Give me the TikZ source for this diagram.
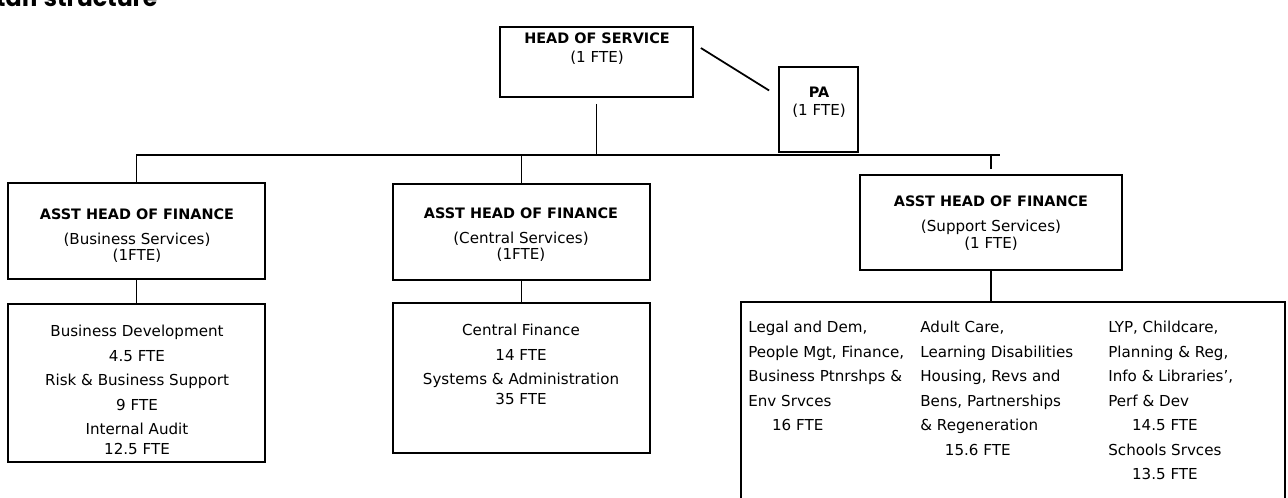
\documentclass[tikz,border=0pt]{standalone}
\usepackage{fontspec}
\setmainfont{DejaVu Sans}
\newfontfamily\titlefont{Poppins}
\usetikzlibrary{fit,calc}

\tikzset{
  box/.style={draw, rectangle, inner sep=0pt, line width=1pt},
  head/.style={anchor=base, inner sep=0pt, font=\bfseries\fontsize{8.2}{10}\selectfont},
  sub/.style={anchor=base, inner sep=0pt, font=\fontsize{8.6}{10}\selectfont},
  list/.style={inner sep=0pt, font=\fontsize{8.6}{13.95}\selectfont},
  wire/.style={line width=1pt},
}

\begin{document}
\begin{tikzpicture}[x=0.02cm, y=-0.02cm]
\useasboundingbox (0,0) rectangle (1288,497);
\clip (0,0) rectangle (1288,497);

% heading, cut off at the top edge
\node[anchor=base west, inner sep=0pt, font=\titlefont\bfseries\fontsize{13.5}{16}\selectfont] (title) at (-19,7) {Staff structure};

% boxes
\node[box, fit={(500,27) (693,97)}] (hos) {};
\node[box, fit={(779,67) (858,152)}] (pa) {};
\node[box, fit={(8,183) (265,279)}] (bus) {};
\node[box, fit={(393,184) (650,280)}] (cen) {};
\node[box, fit={(860,175) (1122,270)}] (sup) {};
\node[box, fit={(8,304) (265,462)}] (buslow) {};
\node[box, fit={(393,303) (650,453)}] (cenlow) {};
\node[box, fit={(741,302) (1285,540)}] (suplow) {};

% titles in the boxes
\node[head] (hostitle) at (597,43) {HEAD OF SERVICE};
\node[sub] (hosfte) at (597,62) {(1 FTE)};
\node[head] (patitle) at (819,97) {PA};
\node[sub] (pafte) at (819,115) {(1 FTE)};

\node[head] (bustitle) at (137,219) {ASST HEAD OF FINANCE};
\node[sub] (busname) at (137,244) {(Business Services)};
\node[sub] (busfte) at (137,260) {(1FTE)};

\node[head] (centitle) at (521,218) {ASST HEAD OF FINANCE};
\node[sub] (cenname) at (521,243) {(Central Services)};
\node[sub] (cenfte) at (521,259) {(1FTE)};

\node[head] (suptitle) at (991,206) {ASST HEAD OF FINANCE};
\node[sub] (supname) at (991,231) {(Support Services)};
\node[sub] (supfte) at (991,248) {(1 FTE)};

% teams
\node[list, anchor=north, align=center] (busteams) at (137,325)
  {Business Development\\4.5 FTE\\Risk \& Business Support\\9 FTE\\Internal Audit\\[-2.6pt]12.5 FTE};
\node[list, anchor=north, align=center] (centeams) at (521,324)
  {Central Finance\\14 FTE\\Systems \& Administration\\[-3pt]35 FTE};

\node[list, anchor=north west, align=left] (supone) at (748,321)
  {Legal and Dem,\\People Mgt, Finance,\\Business Ptnrshps \&\\Env Srvces\\\hspace*{13.5pt}16 FTE};
\node[list, anchor=north west, align=left] (suptwo) at (920,321)
  {Adult Care,\\Learning Disabilities\\Housing, Revs and\\Bens, Partnerships\\\& Regeneration\\\hspace*{14pt}15.6 FTE};
\node[list, anchor=north west, align=left] (supthree) at (1108,321)
  {LYP, Childcare,\\Planning \& Reg,\\Info \& Libraries',\\Perf \& Dev\\\hspace*{13.5pt}14.5 FTE\\Schools Srvces\\\hspace*{13.5pt}13.5 FTE};

% lines
\coordinate (rail) at (1000,155);
\draw[wire] (bus.north) |- (rail);
\draw[wire, shorten <=0.12cm] (hos.south) -- (hos.south |- rail);
\draw[wire] (cen.north) -- (cen.north |- rail);
\draw[wire, shorten <=0.1cm] (sup.north) -- (sup.north |- rail);
\draw[wire] ($(hos.east)+(7,-14)$) -- ($(pa.west)+(-9,-19)$);
\draw[wire] (bus.south) -- (buslow.north);
\draw[wire] (cen.south) -- (cenlow.north);
\draw[wire] (sup.south) -- (sup.south |- suplow.north);
\end{tikzpicture}
\end{document}
